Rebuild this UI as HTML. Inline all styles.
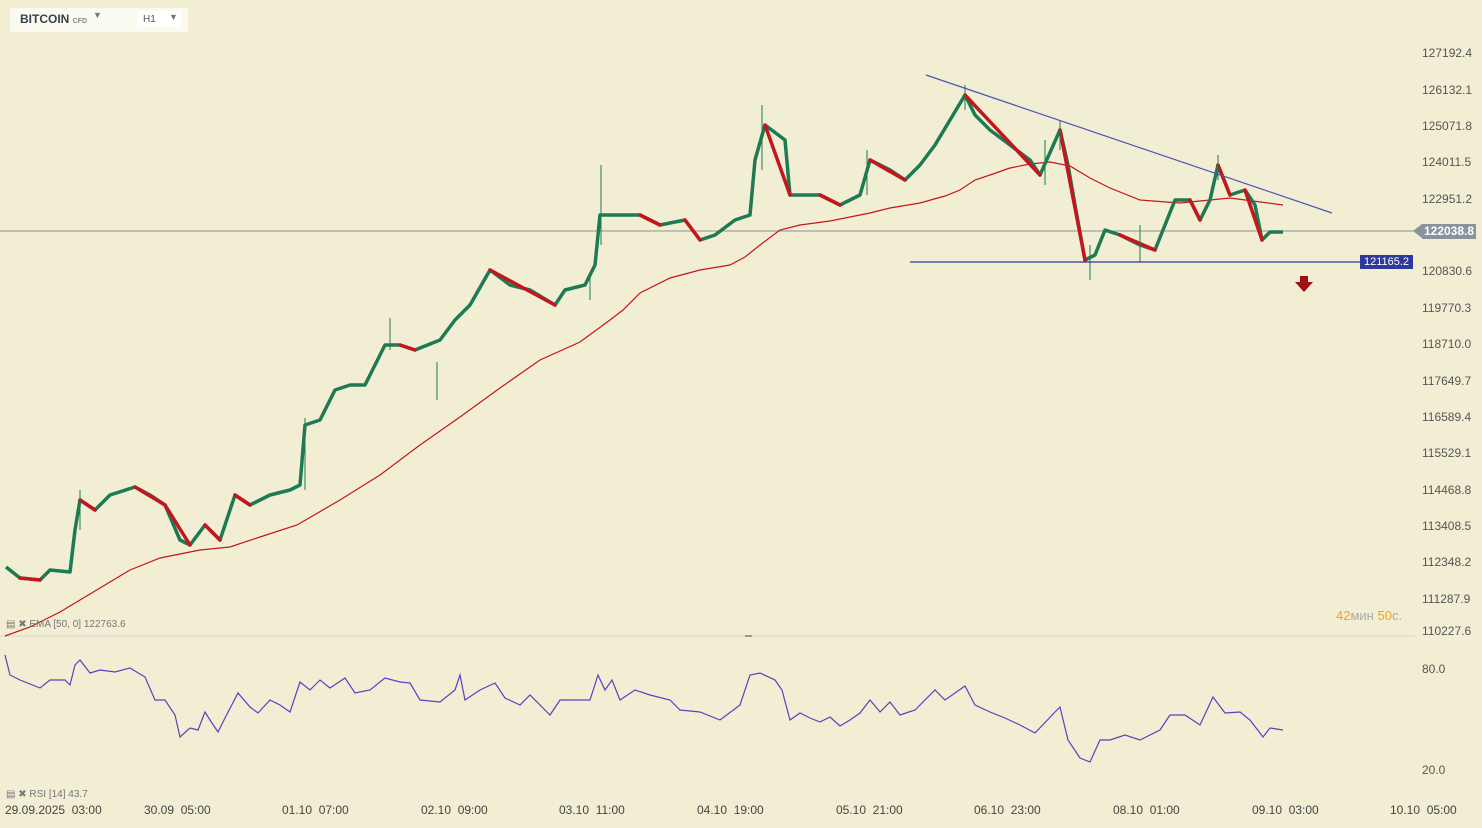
<!DOCTYPE html>
<html><head><meta charset="utf-8">
<style>
body{margin:0;background:#f2eed4;font-family:"Liberation Sans",sans-serif;}
#w{position:relative;width:1482px;height:828px;overflow:hidden;background:#f2eed4;}
.pl{position:absolute;left:1422px;font-size:12px;color:#555;}
.tl{position:absolute;top:803px;font-size:12px;color:#444;}
</style></head><body><div id="w">
<svg width="1482" height="828" style="position:absolute;left:0;top:0">
<line x1="0" y1="636" x2="1415" y2="636" stroke="#d8d4c8"/>
<line x1="0" y1="231" x2="1415" y2="231" stroke="#8a9399"/>
<polyline fill="none" stroke="#c4161c" stroke-width="1.2" points="5,636 30,627 60,612 100,588 130,570 160,558 200,550 230,547 260,537 297,525 340,500 380,475 420,445 460,417 500,388 540,360 580,342 610,320 623,310 640,293 670,278 700,270 730,265 745,257 760,245 780,230 800,225 830,221 850,217 870,213 890,208 920,203 945,196 960,190 975,180 990,175 1010,168 1030,164 1050,162 1070,166 1090,178 1110,188 1140,200 1180,203 1230,198 1283,205"/>
<polyline fill="none" stroke="#1d7a52" stroke-width="3.5" stroke-linejoin="round" points="6,567 20,578 40,580 50,570 70,572 75,530 80,500 95,510 110,495 135,487 150,495 165,505 180,540 190,545 205,525 220,540 235,495 250,505 270,495 290,490 300,485 305,425 320,420 335,390 350,385 365,385 385,345 400,345 415,350 440,340 455,320 470,305 490,270 510,285 530,290 555,305 565,290 585,285 595,265 600,215 620,215 640,215 660,225 685,220 700,240 715,235 735,220 750,215 755,160 765,125 785,140 790,195 820,195 840,205 860,195 870,160 890,170 905,180 920,165 935,145 950,120 965,95 975,115 990,130 1010,145 1030,160 1040,175 1060,130 1068,165 1075,205 1085,260 1095,255 1105,230 1120,235 1140,245 1155,250 1165,225 1175,200 1190,200 1200,220 1210,200 1218,165 1230,195 1245,190 1255,205 1262,240 1270,232 1283,232"/>
<g stroke="#c4161c" stroke-width="3.5" stroke-linecap="round">
<line x1="20" y1="578" x2="40" y2="580"/><line x1="80" y1="500" x2="95" y2="510"/><line x1="135" y1="487" x2="165" y2="505"/><line x1="165" y1="505" x2="190" y2="545"/><line x1="205" y1="525" x2="220" y2="540"/><line x1="235" y1="495" x2="250" y2="505"/><line x1="400" y1="345" x2="415" y2="350"/><line x1="490" y1="270" x2="555" y2="305"/><line x1="640" y1="215" x2="660" y2="225"/><line x1="685" y1="220" x2="700" y2="240"/><line x1="765" y1="125" x2="790" y2="195"/><line x1="820" y1="195" x2="840" y2="205"/><line x1="870" y1="160" x2="905" y2="180"/><line x1="965" y1="95" x2="1040" y2="175"/><line x1="1060" y1="130" x2="1085" y2="260"/><line x1="1120" y1="235" x2="1155" y2="250"/><line x1="1190" y1="200" x2="1200" y2="220"/><line x1="1218" y1="165" x2="1230" y2="195"/><line x1="1245" y1="190" x2="1262" y2="240"/>
</g>
<g stroke="#1d7a52" stroke-width="1">
<line x1="601" y1="165" x2="601" y2="245"/><line x1="762" y1="105" x2="762" y2="170"/><line x1="965" y1="85" x2="965" y2="110"/><line x1="1060" y1="120" x2="1060" y2="150"/><line x1="1090" y1="245" x2="1090" y2="280"/><line x1="1218" y1="155" x2="1218" y2="180"/><line x1="390" y1="318" x2="390" y2="350"/><line x1="80" y1="490" x2="80" y2="530"/><line x1="305" y1="418" x2="305" y2="490"/><line x1="437" y1="362" x2="437" y2="400"/><line x1="590" y1="275" x2="590" y2="300"/><line x1="867" y1="150" x2="867" y2="195"/><line x1="1045" y1="140" x2="1045" y2="185"/><line x1="1140" y1="225" x2="1140" y2="262"/>
</g>
<line x1="926" y1="75" x2="1332" y2="213" stroke="#4a58b0" stroke-width="1.2"/>
<line x1="910" y1="262" x2="1360" y2="262" stroke="#2d3a9a" stroke-width="1.2"/>
<polyline fill="none" stroke="#5a40c0" stroke-width="1.2" points="5,655 10,675 20,680 40,688 50,680 65,680 70,685 75,665 80,660 90,673 100,670 115,672 130,668 145,677 155,700 165,700 175,715 180,737 190,728 198,730 205,712 210,720 218,732 225,718 238,693 250,707 258,713 270,700 280,705 290,712 300,682 310,690 320,680 330,688 345,678 355,693 370,690 385,678 400,682 410,683 420,700 440,702 455,690 460,675 465,700 480,690 495,683 505,698 520,705 530,695 550,715 560,700 575,700 590,700 598,675 605,690 612,680 620,700 635,690 650,695 670,700 680,710 700,712 720,720 740,705 750,675 760,673 775,680 782,690 790,720 800,713 810,718 820,722 830,717 840,726 850,720 860,713 870,700 880,712 890,702 900,715 915,710 935,690 945,700 955,693 965,686 975,705 990,712 1005,718 1020,725 1035,733 1055,712 1060,707 1068,740 1080,758 1090,762 1100,740 1110,740 1125,735 1140,740 1160,730 1170,715 1185,715 1200,725 1213,697 1225,713 1240,712 1250,720 1263,737 1270,728 1283,730"/>
<path d="M1300,276 h8 v6 h5 l-9,10 l-9,-10 h5z" fill="#a01010"/>
<line x1="745" y1="636" x2="752" y2="636" stroke="#999" stroke-width="2"/>
</svg>
<div style="position:absolute;left:10px;top:8px;width:178px;height:24px;background:#fafaf0;border-radius:2px"></div>
<div style="position:absolute;left:20px;top:12px;font-size:12px;font-weight:bold;color:#38424a">BITCOIN <span style="font-size:7px;color:#888">CFD</span></div>
<div style="position:absolute;left:93px;top:10px;font-size:9px;color:#777">▼</div>
<div style="position:absolute;left:137px;top:11px;width:44px;height:16px;background:#fff"></div>
<div style="position:absolute;left:143px;top:14px;font-size:10px;color:#555">H1</div>
<div style="position:absolute;left:169px;top:12px;font-size:9px;color:#777">▼</div>
<div class="pl" style="top:46px">127192.4</div>
<div class="pl" style="top:83px">126132.1</div>
<div class="pl" style="top:119px">125071.8</div>
<div class="pl" style="top:155px">124011.5</div>
<div class="pl" style="top:192px">122951.2</div>
<div class="pl" style="top:264px">120830.6</div>
<div class="pl" style="top:301px">119770.3</div>
<div class="pl" style="top:337px">118710.0</div>
<div class="pl" style="top:374px">117649.7</div>
<div class="pl" style="top:410px">116589.4</div>
<div class="pl" style="top:446px">115529.1</div>
<div class="pl" style="top:483px">114468.8</div>
<div class="pl" style="top:519px">113408.5</div>
<div class="pl" style="top:555px">112348.2</div>
<div class="pl" style="top:592px">111287.9</div>
<div class="pl" style="top:624px">110227.6</div>
<div class="pl" style="top:662px">80.0</div>
<div class="pl" style="top:763px">20.0</div>
<div style="position:absolute;left:1360px;top:255px;width:53px;height:14px;background:#2d3a9a;color:#fff;font-size:11px;text-align:center;line-height:14px">121165.2</div>
<div style="position:absolute;left:1422px;top:224px;width:54px;height:15px;background:#8a9399;color:#fff;font-size:12px;font-weight:bold;line-height:15px;text-align:center">122038.8</div>
<div style="position:absolute;left:1413px;top:224px;width:0;height:0;border-top:7.5px solid transparent;border-bottom:7.5px solid transparent;border-right:9px solid #8a9399"></div>
<div style="position:absolute;left:1336px;top:608px;font-size:13px;color:#f0a020">42<span style="color:#aaa">мин</span> 50<span style="color:#aaa">с.</span></div>
<div style="position:absolute;left:6px;top:619px;font-size:10px;color:#777">▤ ✖ EMA [50, 0] 122763.6</div>
<div style="position:absolute;left:6px;top:789px;font-size:10px;color:#777">▤ ✖ RSI [14] 43.7</div>
<div class="tl" style="left:5px">29.09.2025&nbsp; 03:00</div>
<div class="tl" style="left:144px">30.09&nbsp; 05:00</div>
<div class="tl" style="left:282px">01.10&nbsp; 07:00</div>
<div class="tl" style="left:421px">02.10&nbsp; 09:00</div>
<div class="tl" style="left:559px">03.10&nbsp; 11:00</div>
<div class="tl" style="left:697px">04.10&nbsp; 19:00</div>
<div class="tl" style="left:836px">05.10&nbsp; 21:00</div>
<div class="tl" style="left:974px">06.10&nbsp; 23:00</div>
<div class="tl" style="left:1113px">08.10&nbsp; 01:00</div>
<div class="tl" style="left:1252px">09.10&nbsp; 03:00</div>
<div class="tl" style="left:1390px">10.10&nbsp; 05:00</div>
</div>
</body></html>
